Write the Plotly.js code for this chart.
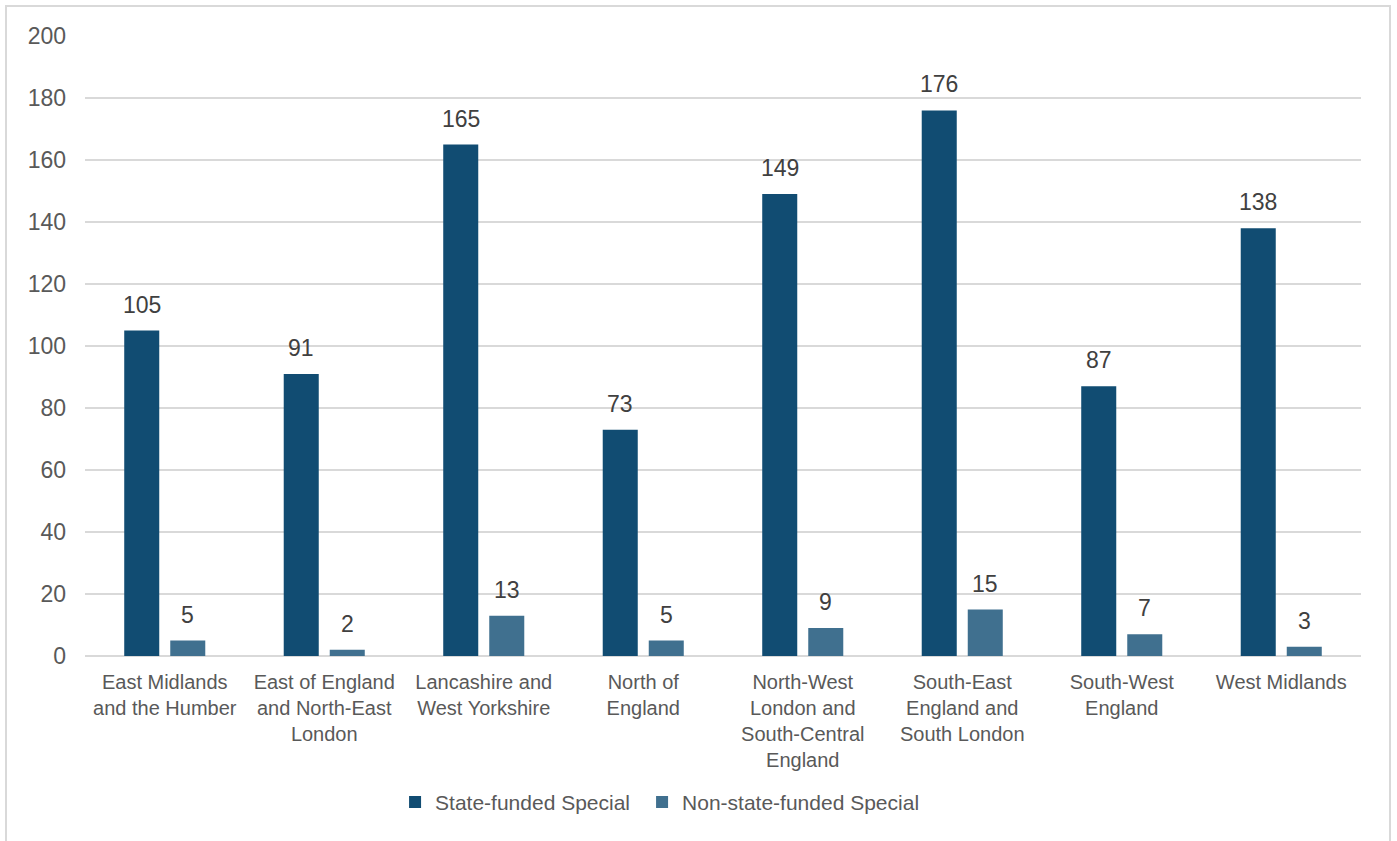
<!DOCTYPE html>
<html>
<head>
<meta charset="utf-8">
<script src="https://cdn.plot.ly/plotly-3.0.1.min.js"></script>
<style>
  html, body { margin: 0; padding: 0; background: #ffffff; }
  #chart { width: 1397px; height: 841px; position: absolute; left: 0; top: 0; }
  #frame { position: absolute; left: 5px; top: 5px; width: 1382px; height: 850px;
           border: 2px solid #d9d9d9; pointer-events: none; }
</style>
</head>
<body>
<div id="chart"></div>
<div id="frame"></div>
<script>
// Regions and special-school counts
const regions = [
  "East Midlands and the Humber",
  "East of England and North-East London",
  "Lancashire and West Yorkshire",
  "North of England",
  "North-West London and South-Central England",
  "South-East England and South London",
  "South-West England",
  "West Midlands"
];
const regionLabels = [
  "East Midlands<br>and the Humber",
  "East of England<br>and North-East<br>London",
  "Lancashire and<br>West Yorkshire",
  "North of<br>England",
  "North-West<br>London and<br>South-Central<br>England",
  "South-East<br>England and<br>South London",
  "South-West<br>England",
  "West Midlands"
];
const stateFunded = [105, 91, 165, 73, 149, 176, 87, 138];
const nonStateFunded = [5, 2, 13, 5, 9, 15, 7, 3];
const yTicks = [0, 20, 40, 60, 80, 100, 120, 140, 160, 180, 200];

const FONT = "Liberation Sans, Arial, sans-serif";
const TEXT = "#595959";
const C_STATE = "#114C72";
const C_NONSTATE = "#40708F";

const traces = [
  { type: "bar", name: "State-funded Special", x: regions, y: stateFunded,
    marker: { color: C_STATE }, hoverinfo: "x+y", legendwidth: 202 },
  { type: "bar", name: "Non-state-funded Special", x: regions, y: nonStateFunded,
    marker: { color: C_NONSTATE }, hoverinfo: "x+y" }
];

// Value labels sit above each bar, shifted to the bar's slot within its group
const labelShift = 23;
const annotations = [];
regions.forEach((r, i) => {
  annotations.push({ x: r, y: stateFunded[i], text: String(stateFunded[i]),
    xref: "x", yref: "y", showarrow: false, yanchor: "bottom", yshift: 11,
    xshift: -labelShift, font: { family: FONT, size: 23, color: "#404040" } });
  annotations.push({ x: r, y: nonStateFunded[i], text: String(nonStateFunded[i]),
    xref: "x", yref: "y", showarrow: false, yanchor: "bottom", yshift: 11,
    xshift: labelShift, font: { family: FONT, size: 23, color: "#404040" } });
});

const layout = {
  width: 1397, height: 841,
  margin: { l: 85, r: 36, t: 36, b: 185 },
  paper_bgcolor: "#ffffff", plot_bgcolor: "#ffffff",
  font: { family: FONT, color: TEXT, size: 21 },
  barmode: "group", bargap: 0.423, bargroupgap: 0.239,
  xaxis: {
    type: "category", tickmode: "array", tickvals: regions, ticktext: regionLabels,
    showgrid: false, showline: false, zeroline: false, ticks: "",
    ticklabelstandoff: 12,
    tickfont: { family: FONT, size: 20, color: TEXT }, fixedrange: true
  },
  yaxis: {
    range: [0, 200], tickmode: "array", tickvals: yTicks,
    showgrid: true, gridcolor: "#d9d9d9", gridwidth: 2,
    zeroline: true, zerolinecolor: "#d9d9d9", zerolinewidth: 2,
    showline: false, ticks: "", ticklabelstandoff: 18,
    tickfont: { family: FONT, size: 23, color: TEXT }, fixedrange: true
  },
  showlegend: true,
  legend: {
    orientation: "h", x: 0.243, xanchor: "left", y: -0.203, yanchor: "top",
    font: { family: FONT, size: 21, color: TEXT }, bgcolor: "rgba(0,0,0,0)"
  },
  annotations: annotations
};

Plotly.newPlot("chart", traces, layout, { displayModeBar: false, staticPlot: true });
</script>
</body>
</html>
